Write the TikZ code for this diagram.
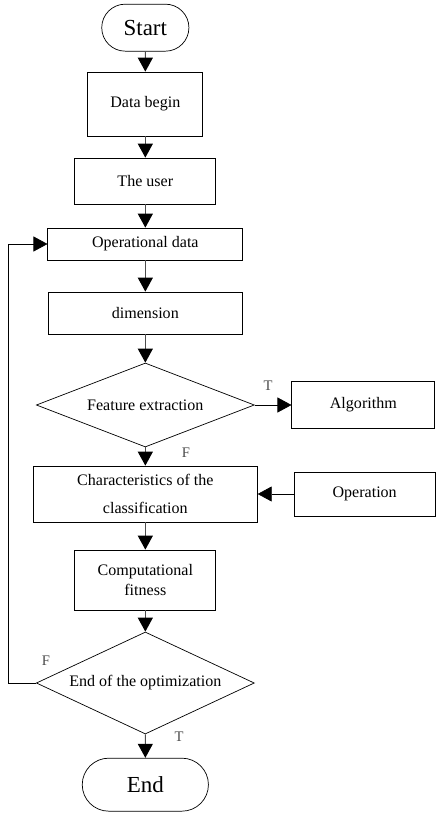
\documentclass[tikz,border=0pt]{standalone}
\usepackage{fontspec}
\setmainfont{Liberation Serif}
\usepackage{tikz}
\usetikzlibrary{arrows.meta,shapes.geometric,shapes.misc}
\tikzset{
	box/.style={draw, line width=0.6pt, inner sep=2pt, align=center, font=\fontsize{13.7}{16.5}\selectfont},
	term/.style={draw, line width=0.6pt, rounded rectangle, font=\fontsize{19.6}{22}\selectfont},
	decide/.style={draw, line width=0.6pt, diamond, inner sep=0pt, font=\fontsize{13.7}{16.5}\selectfont},
	flow/.style={draw=black!70, line width=1pt, -{Triangle[width=0.45cm,length=0.42cm,color=black]}},
	side/.style={draw=black, line width=0.6pt, -{Triangle[width=0.45cm,length=0.42cm,color=black]}},
	tf/.style={font=\fontsize{12.5}{14}\selectfont, text=black!70}
}

\begin{document}
\begin{tikzpicture}
		%%%%% START %%%%%
		\useasboundingbox (0, 0) rectangle (13.08, -24.54);
		
		\node[term, minimum width=2.85cm, minimum height=1.41cm] (start) at (4.36, -0.83) {Start};
		\node[box, minimum width=3.45cm, minimum height=1.92cm] (begin) at (4.36, -3.12) {Data begin};
		\node[box, minimum width=4.23cm, minimum height=1.38cm] (user) at (4.36, -5.43) {The user};
		\node[box, minimum width=5.85cm, minimum height=0.96cm] (opdata) at (4.36, -7.32) {Operational data};
		\node[box, minimum width=5.82cm, minimum height=1.26cm] (dim) at (4.36, -9.39) {dimension};
		
		\node[decide, aspect=2.6, minimum width=6.54cm, minimum height=2.52cm] (feat) at (4.36, -12.15) {Feature extraction};
		\node[box, minimum width=4.29cm, minimum height=1.41cm] (algo) at (10.9, -12.15) {Algorithm};
		\node[tf] (t1) at (8.04, -11.58) {T};
		\node[tf] (f1) at (5.58, -13.59) {F};
		
		\node[box, minimum width=6.72cm, minimum height=1.68cm] (char) at (4.36, -14.82) {Characteristics of the\\[0.27cm]classification};
		\node[box, minimum width=4.23cm, minimum height=1.32cm] (oper) at (10.94, -14.82) {Operation};
		\node[box, minimum width=4.23cm, minimum height=1.8cm] (comp) at (4.36, -17.4) {Computational\\fitness};
		
		\node[decide, aspect=2.14, minimum width=6.54cm, minimum height=3.06cm] (endopt) at (4.36, -20.49) {End of the optimization};
		\node[tf] (f2) at (1.38, -19.83) {F};
		\node[tf] (t2) at (5.37, -22.11) {T};
		
		\node[term, minimum width=4.02cm, minimum height=1.59cm] (end) at (4.36, -23.54) {End};
		
		\draw[flow] (start) -- (begin);
		\draw[flow] (begin) -- (user);
		\draw[flow] (user) -- (opdata);
		\draw[flow] (opdata) -- (dim);
		\draw[flow] (dim) -- (feat);
		\draw[side] (feat.east) -- (algo.west);
		\draw[flow] (feat) -- (char);
		\draw[side] (oper.west) -- (char.east);
		\draw[flow] (char) -- (comp);
		\draw[flow] (comp) -- (endopt);
		\draw[flow] (endopt) -- (end);
		\draw[side] (endopt.west) -- ++(-0.82, 0) |- (opdata.west);
		%%%%% END %%%%%
	\end{tikzpicture}
\end{document}
